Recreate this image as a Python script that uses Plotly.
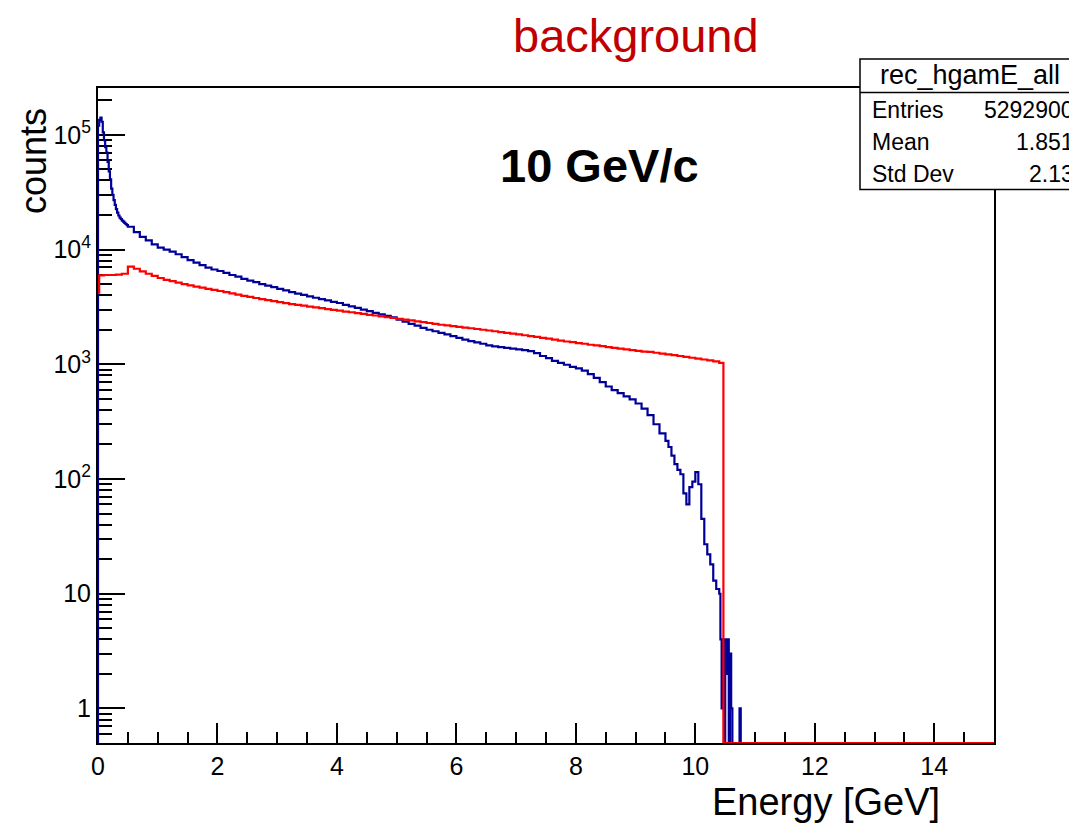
import numpy as np
import plotly.graph_objects as go

# ---------------- data ----------------
# Blue histogram: bin segments (start, stop, width) and counts per bin
blue_segments = [(0.0, 0.5, 0.02), (0.5, 9.5, 0.1), (9.5, 10.4, 0.05), (10.4, 10.8, 0.02), (10.8, 15.0, 4.2)]
blue_counts = [
    # 0.00 - 0.50 (0.02 bins)
    120000, 135000, 141000, 130000, 105000, 90000, 78000, 70000, 58000, 48000,
    41000, 34000, 30000, 27000, 24500, 22500, 21000, 19800, 19000, 18400,
    17900, 17500, 17100, 16700, 16300,
    # 0.5 - 9.5 (0.1 bins)
    15800, 14200, 12900, 12000, 11100, 10400, 10000, 9600, 9100, 8600,
    8100, 7700, 7300, 6950, 6700, 6500, 6250, 6000, 5800, 5550,
    5350, 5200, 5000, 4850, 4700, 4550, 4400, 4250, 4120, 4020,
    3900, 3800, 3700, 3600, 3500, 3420, 3300, 3200, 3100, 3000,
    2900, 2800, 2720, 2640, 2560, 2450, 2350, 2250, 2170, 2080,
    2000, 1940, 1880, 1820, 1760, 1700, 1640, 1590, 1550, 1510,
    1460, 1430, 1410, 1390, 1370, 1350, 1330, 1300, 1250, 1180,
    1130, 1070, 1030, 990, 950, 920, 880, 820, 760, 700,
    640, 595, 560, 525, 495, 455, 410, 360, 300, 250,
    # 9.5 - 10.4 (0.05 bins)
    215, 190, 160, 135, 120, 110, 75, 60, 85, 95,
    115, 90, 45, 27, 22, 18, 13, 11,
    # 10.4 - 10.8 (0.02 bins)
    10, 4, 1, 4, 0, 4, 2, 4, 0, 3,
    1, 0, 0, 0, 0, 0, 0, 1, 0, 0,
    # 10.8 - 15
    0,
]

# Red histogram: explicit bin edges and counts
red_edges_low = [0.0, 0.02, 0.1, 0.2, 0.3, 0.4]
red_edges_mid = (0.5, 10.4, 0.1)
red_edges_high = [10.4, 10.47, 15.0]
red_counts = [
    4200, 5950, 6000, 6000, 6050, 6150,
    7100, 6800, 6450, 6150, 5900, 5650, 5450, 5300, 5150, 5000,
    4880, 4760, 4650, 4550, 4450, 4350, 4250, 4150, 4050, 3950,
    3860, 3780, 3700, 3620, 3550, 3480, 3410, 3350, 3290, 3240,
    3180, 3130, 3080, 3030, 2980, 2930, 2880, 2840, 2790, 2750,
    2700, 2660, 2620, 2570, 2530, 2490, 2450, 2410, 2370, 2330,
    2290, 2250, 2210, 2180, 2150, 2120, 2090, 2060, 2030, 2000,
    1970, 1940, 1910, 1880, 1850, 1820, 1790, 1760, 1730, 1700,
    1670, 1640, 1610, 1580, 1560, 1530, 1510, 1480, 1460, 1440,
    1410, 1390, 1370, 1350, 1330, 1310, 1290, 1280, 1260, 1240,
    1220, 1200, 1180, 1160, 1140, 1120, 1100, 1080, 1060,
    1030,
    0,
]

x_ticks = [0, 2, 4, 6, 8, 10, 12, 14]
y_ticks = [1, 10, 100, 1000, 10000, 100000]
y_ticktext = ["1", "10", "10<sup>2</sup>", "10<sup>3</sup>", "10<sup>4</sup>", "10<sup>5</sup>"]

stats_labels = ["Entries", "Mean", "Std Dev"]
stats_values = ["5292900", "1.851", "2.13"]

# ---------------- build step curves ----------------
def seg_edges(segs):
    e = []
    for a, b, w in segs:
        n = int(round((b - a) / w))
        e.extend([round(a + i * w, 4) for i in range(n)])
    e.append(segs[-1][1])
    return e

blue_edges = seg_edges(blue_segments)
a, b, w = red_edges_mid
red_edges = red_edges_low + [round(a + i * w, 4) for i in range(int(round((b - a) / w)))] + red_edges_high

YMIN = 0.5
FLOOR = YMIN  # empty bins are drawn on the frame bottom


def step(edges, counts, from_floor):
    c = [v if v > 0 else FLOOR for v in counts]
    xs = list(edges)
    ys = c + [c[-1]]
    if from_floor:
        xs = [edges[0]] + xs
        ys = [FLOOR] + ys
    return xs, ys

bx, by = step(blue_edges, blue_counts, True)
rx, ry = step(red_edges, red_counts, False)

fig = go.Figure()
fig.add_trace(go.Scatter(x=bx, y=by, mode="lines", line=dict(color="#000099", width=2.2, shape="hv"),
                         showlegend=False, hoverinfo="skip"))
fig.add_trace(go.Scatter(x=rx, y=ry, mode="lines", line=dict(color="#FF0000", width=2.2, shape="hv"),
                         showlegend=False, hoverinfo="skip"))

# ---------------- layout ----------------
W, H = 1069, 823
L, R, T, B = 98, 75, 88, 80
PW, PH = W - L - R, H - T - B

def xp(px):
    return (px - L) / PW

def yp(py):
    return (H - B - py) / PH

FONT = "Liberation Sans, Arial, sans-serif"

minor_y = []
for d in range(-1, 6):
    for k in range(2, 10):
        v = k * 10 ** d
        if YMIN < v < 2.5e5:
            minor_y.append(v)

fig.update_layout(
    width=W, height=H,
    margin=dict(l=L, r=R, t=T, b=B, pad=0),
    paper_bgcolor="white", plot_bgcolor="white",
    font=dict(family=FONT, color="black"),
    xaxis=dict(
        range=[0, 15], showgrid=False, zeroline=False,
        showline=True, linecolor="black", linewidth=2, mirror=True,
        ticks="inside", ticklen=20, tickwidth=1.6, tickcolor="black",
        tickvals=x_ticks, ticktext=[str(v) for v in x_ticks],
        tickfont=dict(size=25, family=FONT, color="black"),
        minor=dict(dtick=0.5, ticks="inside", ticklen=11, tickwidth=1.6, tickcolor="black", showgrid=False),
        layer="below traces",
    ),
    yaxis=dict(
        type="log", range=[np.log10(YMIN), 5.408], showgrid=False, zeroline=False,
        showline=True, linecolor="black", linewidth=2, mirror=True,
        ticks="inside", ticklen=27, tickwidth=1.6, tickcolor="black",
        tickvals=y_ticks, ticktext=y_ticktext,
        tickfont=dict(size=25, family=FONT, color="black"),
        minor=dict(tickvals=minor_y, ticks="inside", ticklen=14, tickwidth=1.6, tickcolor="black", showgrid=False),
        layer="below traces",
    ),
)

ann = []
ann.append(dict(text="background", x=xp(636), y=yp(36), xref="paper", yref="paper",
                xanchor="center", yanchor="middle", showarrow=False,
                font=dict(size=47, color="#C00000", family=FONT)))
ann.append(dict(text="<b>10 GeV/c</b>", x=xp(599), y=yp(166), xref="paper", yref="paper",
                xanchor="center", yanchor="middle", showarrow=False,
                font=dict(size=47, color="black", family=FONT)))
ann.append(dict(text="counts", x=xp(33), y=yp(161), xref="paper", yref="paper", textangle=-90,
                xanchor="center", yanchor="middle", showarrow=False,
                font=dict(size=36, color="black", family=FONT)))
ann.append(dict(text="Energy [GeV]", x=xp(826), y=yp(802), xref="paper", yref="paper",
                xanchor="center", yanchor="middle", showarrow=False,
                font=dict(size=38, color="black", family=FONT)))

# stats box
ann.append(dict(text="rec_hgamE_all", x=xp(970), y=yp(75), xref="paper", yref="paper",
                xanchor="center", yanchor="middle", showarrow=False,
                font=dict(size=27, color="black", family=FONT)))
row_y = [110, 142, 174]
for lab, val, ry_ in zip(stats_labels, stats_values, row_y):
    ann.append(dict(text=lab, x=xp(870), y=yp(ry_), xref="paper", yref="paper",
                    xanchor="left", yanchor="middle", showarrow=False,
                    font=dict(size=23, color="black", family=FONT)))
    ann.append(dict(text=val, x=xp(1076), y=yp(ry_), xref="paper", yref="paper",
                    xanchor="right", yanchor="middle", showarrow=False,
                    font=dict(size=23, color="black", family=FONT)))
fig.update_layout(annotations=ann)

fig.update_layout(shapes=[
    dict(type="rect", xref="paper", yref="paper", x0=xp(860), x1=xp(1110), y0=yp(189.5), y1=yp(59),
         line=dict(color="black", width=1.5), fillcolor="white", layer="above"),
    dict(type="line", xref="paper", yref="paper", x0=xp(860), x1=xp(1110), y0=yp(92.5), y1=yp(92.5),
         line=dict(color="black", width=1.5), layer="above"),
])

fig.write_html("out.html")
